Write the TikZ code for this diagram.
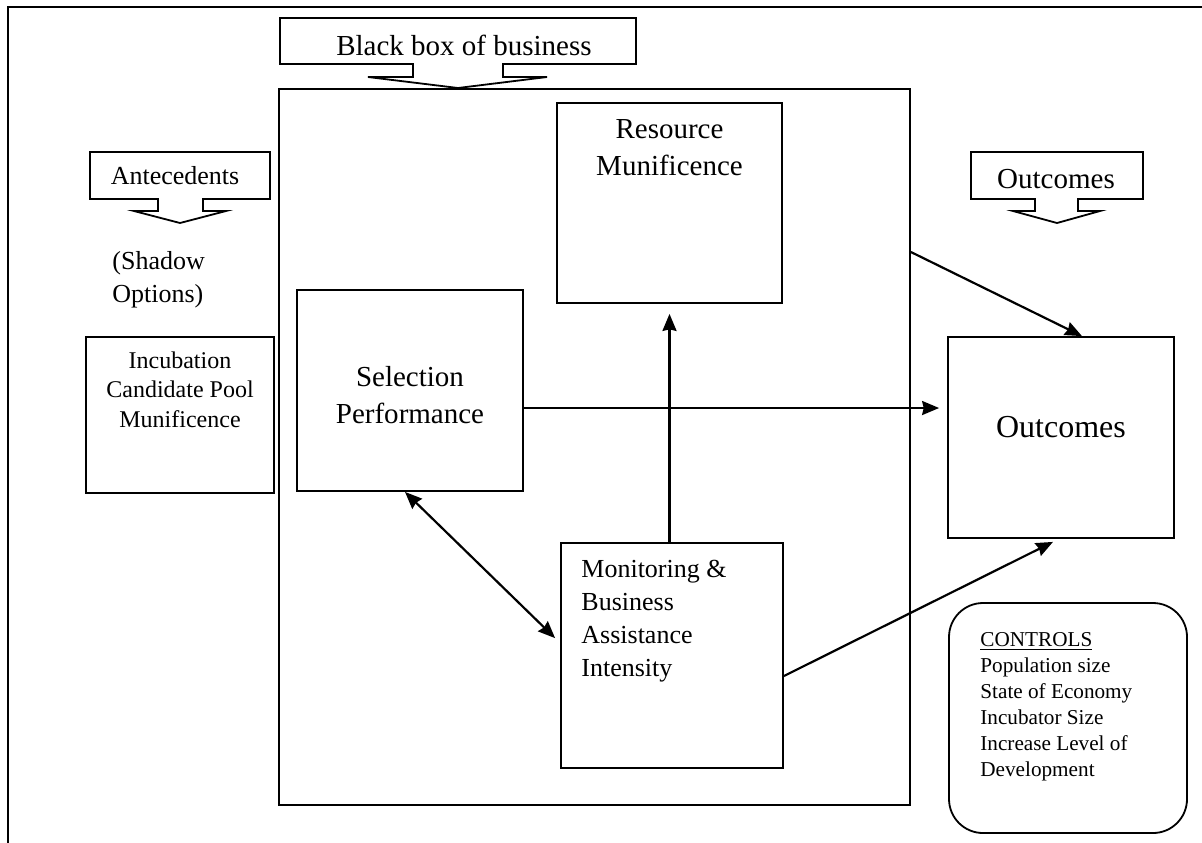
\documentclass[tikz,border=0pt]{standalone}
\usepackage{fontspec}
\setmainfont{Liberation Serif}
\usetikzlibrary{arrows.meta,fit}
\newcommand\mlines[2]{\begin{tabular}[t]{@{}#1@{}}#2\end{tabular}}
\begin{document}
\begin{tikzpicture}[x=0.5pt,y=-0.5pt,
  box/.style={draw,line width=0.9pt,inner sep=0pt},
  callout/.style={draw,line width=0.9pt,fill=white,line join=miter},
  arr/.style={line width=1.1pt,-{Stealth[length=8.5pt,width=7pt,inset=0.8pt]}},
  dblarr/.style={line width=1.1pt,{Stealth[length=8.5pt,width=7pt,inset=0.8pt]}-{Stealth[length=8.5pt,width=7pt,inset=0.8pt]}},
  txt/.style={inner sep=0pt,anchor=base},
  big/.style={font=\fontsize{14.5}{18.5}\selectfont},
  mid/.style={font=\fontsize{13}{16.5}\selectfont},
  small/.style={font=\fontsize{12}{14.75}\selectfont},
  tiny/.style={font=\fontsize{10.6}{13}\selectfont},
  huge/.style={font=\fontsize{16}{19}\selectfont}]
\useasboundingbox (0,0) rectangle (1202,842);
% outer frame (only top and left visible)
\draw[line width=1pt] (8,846) -- (8,7) -- (1206,7);
% main boxes
\node[box,fit={(279,89) (910,805)}] (bigbox) {};
\node[box,fit={(557,103) (782,303)}] (res) {};
\node[box,fit={(297,290) (523,491)}] (sel) {};
\node[box,fit={(561,543) (783,768)}] (mon) {};
\node[box,fit={(948,337) (1174,538)}] (out) {};
\node[box,fit={(86,337) (274,493)}] (inc) {};
\node[box,rounded corners=17pt,fit={(949,603) (1187,833)}] (ctrl) {};
% callouts
\draw[callout] (280,18) -- (636,18) -- (636,64) -- (503,64) -- (503,77) -- (547,77)
  -- (458,88) -- (368,77) -- (413,77) -- (413,64) -- (280,64) -- cycle;
\draw[callout] (90,152) -- (270,152) -- (270,199) -- (203,199) -- (203,211) -- (226,211)
  -- (180,223) -- (134,211) -- (158,211) -- (158,199) -- (90,199) -- cycle;
\draw[callout] (971,152) -- (1143,152) -- (1143,199) -- (1078,199) -- (1078,211) -- (1100,211)
  -- (1057,223) -- (1013,211) -- (1035,211) -- (1035,199) -- (971,199) -- cycle;
% texts
\node[txt,big] (tblack) at (464,55) {Black box of business};
\node[txt,mid] (tante) at (175,184) {Antecedents};
\node[txt,big] (toutc) at (1056,188) {Outcomes};
\node[txt,mid,anchor=base west] (tshadow) at (112,269) {\mlines{l}{(Shadow\\Options)}};
\node[txt,small] (tinc) at (180,368) {\mlines{c}{Incubation\\Candidate Pool\\Munificence}};
\node[txt,big] (tsel) at (410,386) {\mlines{c}{Selection\\Performance}};
\node[txt,big] (tres) at (669.5,138) {\mlines{c}{Resource\\Munificence}};
\node[txt,mid,anchor=base west] (tmon) at (581,577) {\mlines{l}{Monitoring \&\\Business\\Assistance\\Intensity}};
\node[txt,huge] (tout) at (1061,437) {Outcomes};
\node[txt,tiny,anchor=base west] (tctrl) at (980,646) {\mlines{l}{\underline{CONTROLS}\\Population size\\State of Economy\\Incubator Size\\Increase Level of\\Development}};
% connectors
\coordinate (yl) at (0,408);
\draw[arr,shorten >=4pt] (sel.east |- yl) -- (out.west |- yl);
\draw[arr,shorten >=5pt] (mon.north -| res.south) -- (res.south);
\draw[dblarr,shorten >=3.5pt] ([xshift=-2.5pt]sel.south) -- ([yshift=6.25pt]mon.west);
\draw[arr] ([yshift=97.5pt]bigbox.east) -- ([xshift=10.5pt]out.north);
\draw[arr] ([yshift=-10.25pt]mon.east) -- ([xshift=-4pt,yshift=-1.5pt]out.south);
\end{tikzpicture}
\end{document}
